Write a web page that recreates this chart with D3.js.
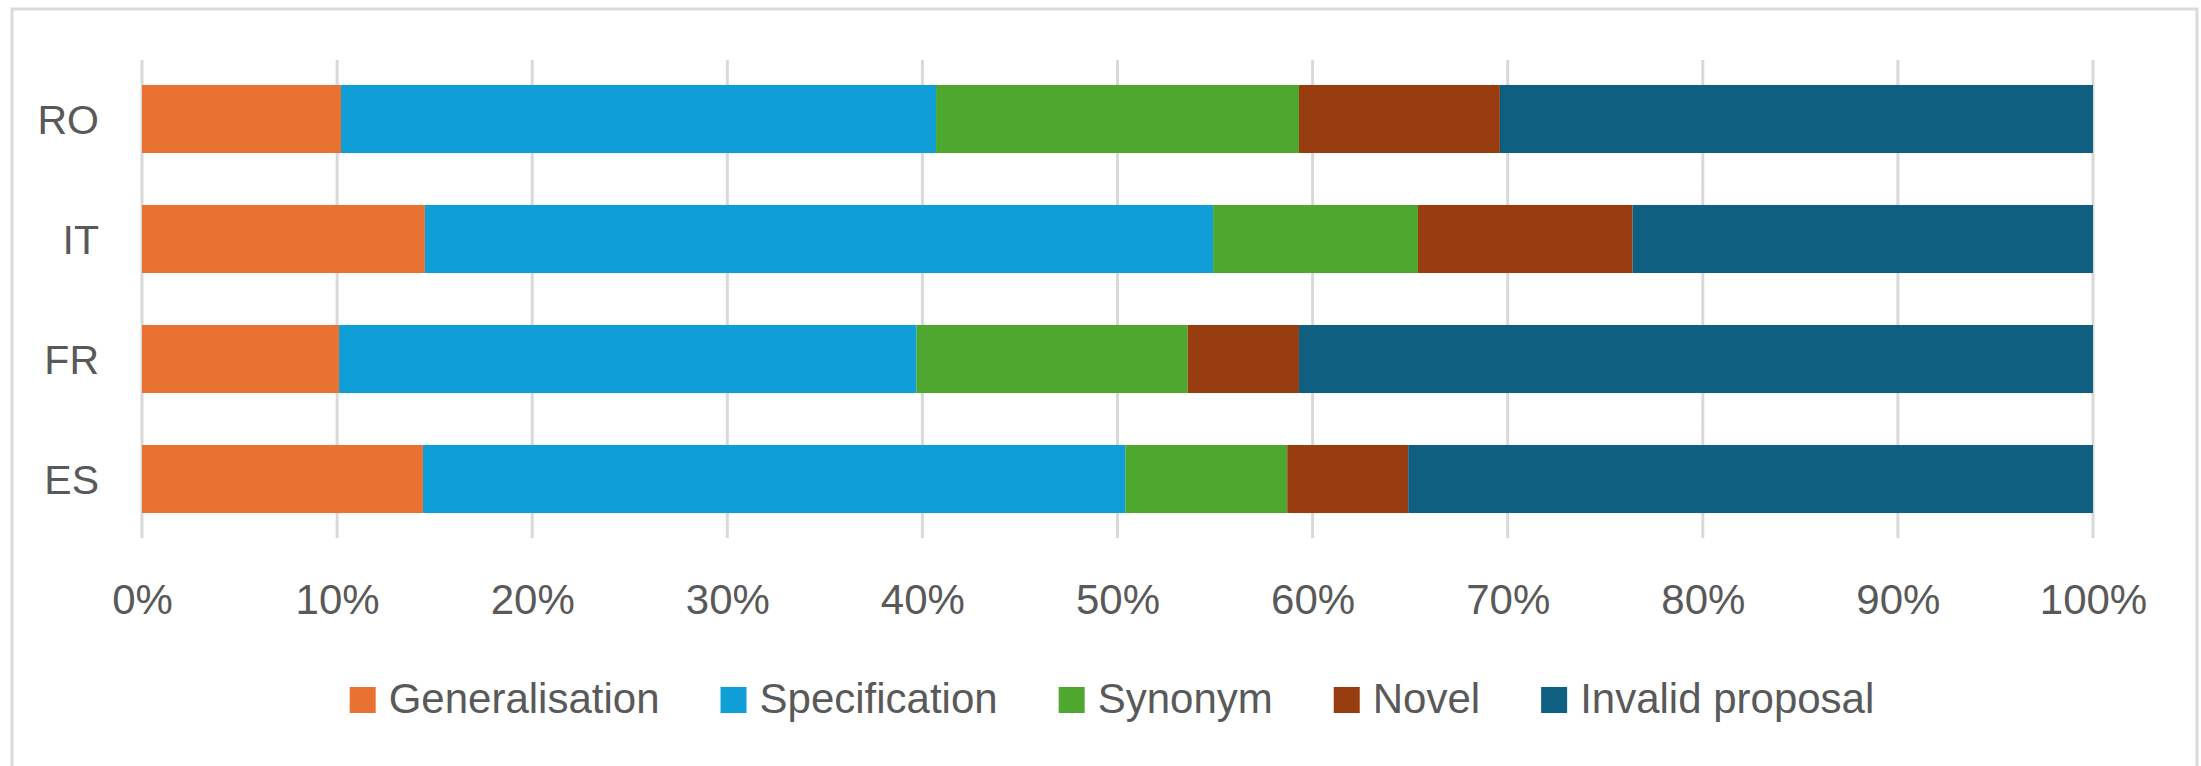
<!DOCTYPE html>
<html>
<head>
<meta charset="utf-8">
<script src="https://cdn.jsdelivr.net/npm/d3@7"></script>
<style>
  html, body { margin: 0; padding: 0; background: #ffffff; }
  svg { display: block; }
</style>
</head>
<body>
<svg id="chart" width="2201" height="766"></svg>
<script>
// ---- Data (percent of proposals per language) ----
const categories = ["RO", "IT", "FR", "ES"];
const seriesNames = ["Generalisation", "Specification", "Synonym", "Novel", "Invalid proposal"];
const generalisation = [10.2, 14.5, 10.1, 14.4];
const specification  = [30.5, 40.4, 29.6, 36.0];
const synonym        = [18.6, 10.5, 13.9, 8.3];
const novel          = [10.3, 11.0, 5.7, 6.2];
const invalid        = [30.4, 23.6, 40.7, 35.1];
const tickValues = [0, 10, 20, 30, 40, 50, 60, 70, 80, 90, 100];
const tickLabels = ["0%", "10%", "20%", "30%", "40%", "50%", "60%", "70%", "80%", "90%", "100%"];
const colors = ["#E97132", "#0F9ED5", "#4EA72E", "#983D0F", "#0E5F80"];

const seriesValues = [generalisation, specification, synonym, novel, invalid];
const rows = categories.map((c, i) => {
  const r = { cat: c };
  seriesNames.forEach((s, j) => { r[s] = seriesValues[j][i]; });
  return r;
});
// normalise each row to 100%
const stack = d3.stack().keys(seriesNames).offset(d3.stackOffsetExpand);
const stacked = stack(rows);

const svg = d3.select("#chart");
const FONT = "'Liberation Sans', Arial, sans-serif";
const TEXT = "#595959";

// frame
svg.append("rect").attr("x", 12).attr("y", 9).attr("width", 2185).attr("height", 800)
  .attr("fill", "#fff").attr("stroke", "#d9d9d9").attr("stroke-width", 3);

const x = d3.scaleLinear().domain([0, 1]).range([142, 2093]);
const y = d3.scaleBand().domain(categories).range([60, 538]).paddingInner(0.433).paddingOuter(0.208);

// gridlines
svg.append("g").selectAll("line").data(tickValues).join("line")
  .attr("x1", d => x(d / 100)).attr("x2", d => x(d / 100))
  .attr("y1", 60).attr("y2", 538)
  .attr("stroke", "#d9d9d9").attr("stroke-width", 3);

// bars
svg.append("g").selectAll("g").data(stacked).join("g")
  .attr("fill", (d, i) => colors[i])
  .selectAll("rect").data(d => d).join("rect")
  .attr("x", d => x(d[0])).attr("width", d => x(d[1]) - x(d[0]))
  .attr("y", d => y(d.data.cat)).attr("height", y.bandwidth());

// x axis labels
const xAxis = d3.axisBottom(x).tickValues(tickValues.map(v => v / 100))
  .tickFormat((d, i) => tickLabels[i]).tickSize(0).tickPadding(0);
const gx = svg.append("g").attr("transform", "translate(0,614)").call(xAxis);
gx.select(".domain").remove();
gx.selectAll("text").attr("dy", 0).attr("y", 0)
  .attr("font-family", FONT).attr("font-size", 42).attr("fill", TEXT);

// y axis labels
const yAxis = d3.axisLeft(y).tickSize(0).tickPadding(0);
const gy = svg.append("g").attr("transform", "translate(99,0)").call(yAxis);
gy.select(".domain").remove();
gy.selectAll("text").attr("dy", "0.36em")
  .attr("font-family", FONT).attr("font-size", 41).attr("fill", TEXT);

// legend
const lg = svg.append("g");
const items = lg.selectAll("g").data(seriesNames).join("g");
items.append("rect").attr("width", 26).attr("height", 26).attr("y", 687)
  .attr("fill", (d, i) => colors[i]);
const texts = items.append("text").text(d => d).attr("y", 713)
  .attr("font-family", FONT).attr("font-size", 42).attr("fill", TEXT);
let widths = [];
texts.each(function () { widths.push(this.getComputedTextLength()); });
const sq = 26, gapSq = 13, gapItem = 61;
const total = d3.sum(widths) + seriesNames.length * (sq + gapSq) + gapItem * (seriesNames.length - 1);
let cx = 1112 - total / 2;
items.each(function (d, i) {
  d3.select(this).attr("transform", `translate(${cx},0)`);
  d3.select(this).select("text").attr("x", sq + gapSq);
  cx += sq + gapSq + widths[i] + gapItem;
});
</script>
</body>
</html>
